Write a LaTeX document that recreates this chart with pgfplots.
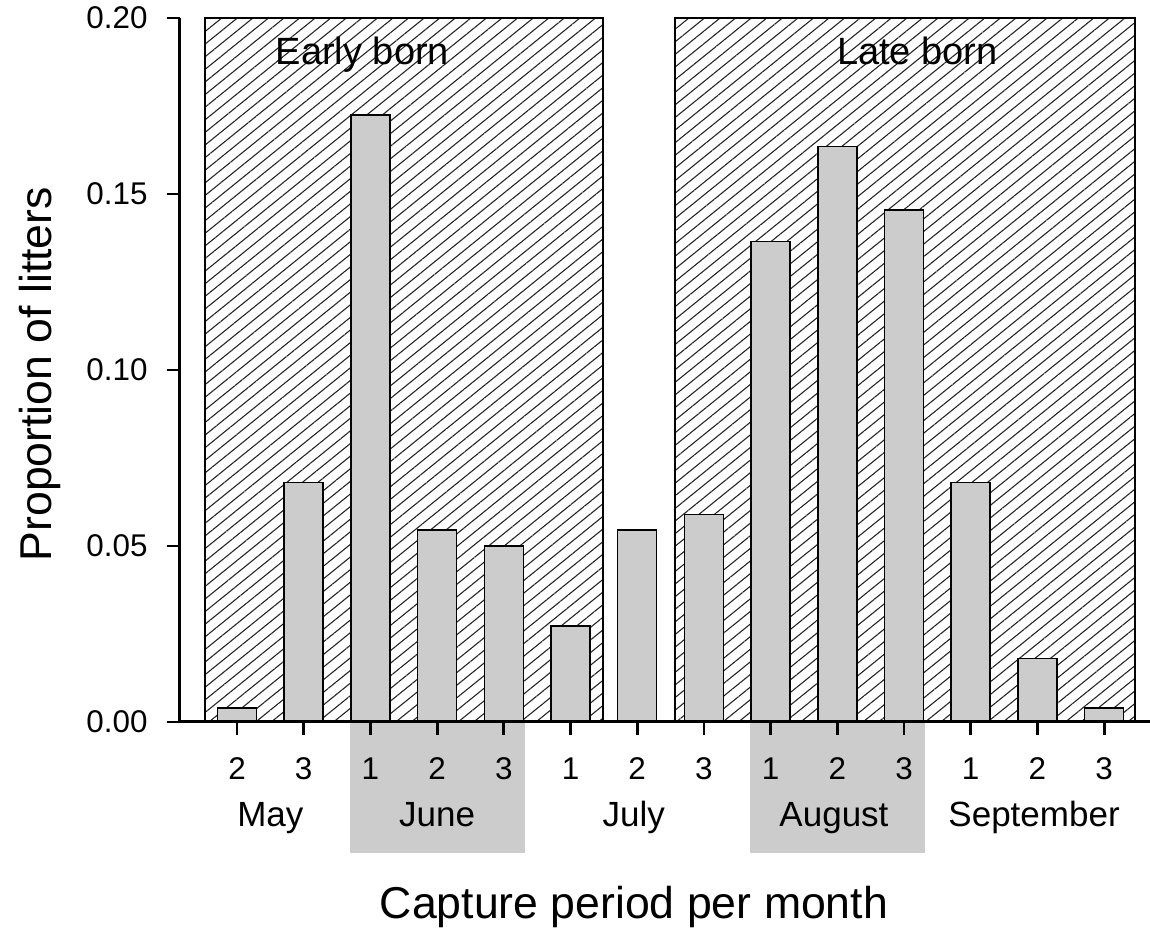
\documentclass[border=0pt]{standalone}
\usepackage{pgfplots}
\pgfplotsset{compat=1.18}
\usetikzlibrary{patterns.meta}
\usepackage{fontspec}
\setmainfont{Liberation Sans}
\definecolor{barfill}{gray}{0.8}
\begin{document}
\begin{tikzpicture}
\begin{axis}[
  x=33.35pt, y=1760pt,
  xmin=-0.855, xmax=13.688, ymin=0, ymax=0.2,
  axis lines*=left,
  axis line style={line width=1.5pt, black},
  axis on top,
  clip=false,
  tick align=outside,
  major tick length=6.5pt,
  tick style={line width=1.4pt, black},
  xtick={0,...,13},
  xticklabels={2,3,1,2,3,1,2,3,1,2,3,1,2,3},
  ytick={0,0.05,0.1,0.15,0.2},
  yticklabels={0.00,0.05,0.10,0.15,0.20},
  ticklabel style={font=\fontsize{15.7}{18}\selectfont},
  xticklabel style={anchor=base, yshift=-22.5pt},
  yticklabel style={anchor=east, inner sep=0pt, xshift=-9.5pt},
  xlabel={Capture period per month},
  ylabel={Proportion of litters},
  label style={font=\fontsize{22.3}{26}\selectfont},
  xlabel style={at={(axis description cs:0.468,-0.2785)}, anchor=base},
  ylabel style={at={(axis description cs:-0.132,0.494)}, anchor=base},
]
% hatched period boxes
\addplot[draw=black, line width=0.75pt, pattern={Lines[angle=39,distance=4.9pt,line width=0.55pt]}, pattern color=black!85]
  coordinates {(-0.48,0) (-0.48,0.2) (5.487,0.2) (5.487,0)} -- cycle;
\addplot[draw=black, line width=0.75pt, pattern={Lines[angle=39,distance=4.9pt,line width=0.55pt]}, pattern color=black!85]
  coordinates {(6.567,0) (6.567,0.2) (13.463,0.2) (13.463,0)} -- cycle;
% grey boxes behind month labels
\addplot[fill=barfill, draw=none]
  coordinates {(1.694,0) (1.694,-0.0372) (4.318,-0.0372) (4.318,0)} -- cycle;
\addplot[fill=barfill, draw=none]
  coordinates {(7.69,0) (7.69,-0.0372) (10.31,-0.0372) (10.31,0)} -- cycle;
% bars
\addplot[ybar, bar width=19.5pt, bar shift=0pt, fill=barfill, draw=black, line width=0.75pt]
  coordinates {
  (0,0.004) (1,0.068) (2,0.1725) (3,0.0545) (4,0.050) (5,0.0273) (6,0.0545)
  (7,0.059) (8,0.1365) (9,0.1635) (10,0.1455) (11,0.068) (12,0.018) (13,0.004)};
% month labels
\node[anchor=base, font=\fontsize{17.5}{21}\selectfont] at (axis cs:0.5,-0.02983) {May};
\node[anchor=base, font=\fontsize{17.5}{21}\selectfont] at (axis cs:3,-0.02983) {June};
\node[anchor=base, font=\fontsize{17.5}{21}\selectfont] at (axis cs:5.95,-0.02983) {July};
\node[anchor=base, font=\fontsize{17.5}{21}\selectfont] at (axis cs:8.95,-0.02983) {August};
\node[anchor=base, font=\fontsize{17.5}{21}\selectfont] at (axis cs:11.95,-0.02983) {September};
% group labels
\node[anchor=base, font=\fontsize{19}{22}\selectfont] at (axis cs:1.88,0.18665) {Early born};
\node[anchor=base, font=\fontsize{19}{22}\selectfont] at (axis cs:10.2,0.18665) {Late born};
\coordinate (bbl) at (axis cs:-3.5532,-0.058807);
\coordinate (btr) at (axis cs:13.688,0.20511);
\end{axis}
\pgfresetboundingbox
\path (bbl) rectangle (btr);
\end{tikzpicture}
\end{document}
